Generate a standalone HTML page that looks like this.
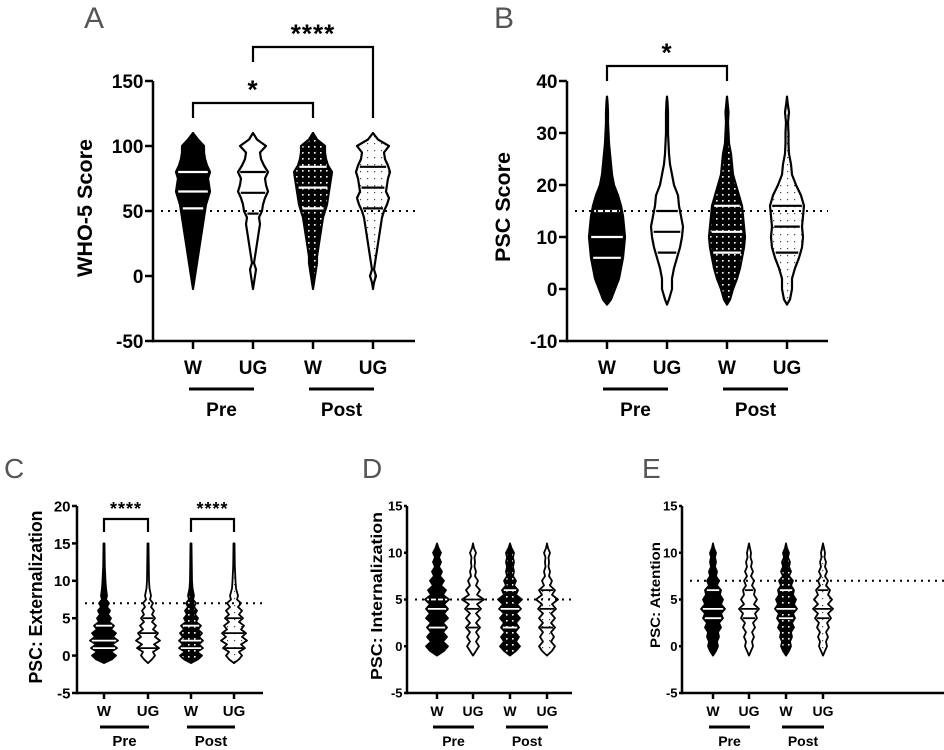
<!DOCTYPE html>
<html><head><meta charset="utf-8">
<style>
html,body{margin:0;padding:0;background:#fff;}
svg{display:block;font-family:"Liberation Sans",Arial,sans-serif;}
</style></head>
<body>
<svg id="fig" width="944" height="750" viewBox="0 0 944 750">
<defs>
<pattern id="wdots" width="6" height="6" patternUnits="userSpaceOnUse"><rect width="6" height="6" fill="#000"/><rect x="2" y="2" width="1.6" height="1.6" fill="#fff"/></pattern>
<pattern id="bdots" width="7" height="7" patternUnits="userSpaceOnUse"><rect width="7" height="7" fill="#fff"/><rect x="3" y="3" width="1.2" height="1.2" fill="#444"/></pattern>
</defs>
</svg>
<script>
const groupCats = ['W','UG','W','UG'];
const timeGroups = ['Pre','Post'];

const aLevels = [-10,-5,0,5,10,15,20,25,30,35,40,45,50,55,60,65,70,75,80,85,90,95,100,105,110];
const aWPre  = [0,1,2,3,4,5,6,7,8,9,10,11,12,13,15,17,16,15,17,14,12,11,11,5,0];
const aUGPre = [0,1,2,3,1,2,3,4,5,6,7,6,9,10,12,15,13,12,15,11,8,7,13,4,0];
const aWPost = [0,1,2,3,4,4,5,6,7,8,9,10,12,14,15,16,17,18,19,15,13,12,12,4,0];
const aUGPost= [0,1,3,1,2,3,4,5,6,7,8,9,11,14,16,13,14,15,17,15,12,11,16,5,0];
const aQuart = [[52,65,80],[48,64,80],[52,68,84],[52,68,84]];

const bLevels = [-3,-2,0,2,4,6,8,10,12,14,16,18,20,22,24,26,28,30,32,34,36,37];
const bWPre  = [0,4,8,12,14,16,17,18,17,16,14,11,7,5,4,3,2,1.5,1,1,0.5,0];
const bUGPre = [0,2,5,5,7,10,13,15,16,14,12,11,7,5,3,2,1.5,1,1,1,0.5,0];
const bWPost = [0,3,6,10,13,15,17,18,17,16,15,12,9,6,5,4,2,1.5,1,1.5,0.5,0];
const bUGPost= [0,3,5,5,8,12,15,16,15,16,17,14,9,5,4,2,1.5,1.5,1,2,0.5,0];
const bQuart = [[6,10,15],[7,11,15],[7,11,16],[7,12,16]];

const cLevels = [-1,-0.5,0,0.5,1,1.5,2,2.5,3,3.5,4,4.5,5,5.5,6,6.5,7,7.5,8,9,10,12,15];
const cWPre  = [0,8,12,7,13,8,14,9,12,7,10,5,7,4,6,3,5,2,3,2,1.5,0.8,0.5];
const cUGPre = [0,4,7,5,11,6,12,7,10,5,8,4,7,4,6,3,5,2,3,1.5,1,0.8,0.5];
const cWPost = [0,7,11,6,12,8,12,8,11,7,10,5,7,4,6,3,5,2,3,1.5,1,0.8,0.5];
const cUGPost= [0,5,8,5,11,7,13,8,12,7,10,5,9,5,8,4,7,3,4,2,1.5,0.8,0.5];
const cQuart = [[1,2,4],[1,3,5],[1,2,4],[1,3,5]];

const dLevels = [-1,-0.5,0,0.5,1,1.5,2,2.5,3,3.5,4,4.5,5,5.5,6,6.5,7,7.5,8,8.5,9,9.5,10,10.5,11];
const dWPre  = [0,7,11,6,10,6,10,6,11,7,11,7,12,6,9,4,7,3,5,2,4,2,4,1.5,0];
const dUGPre = [0,3,6,3,6,3,7,3,7,3,8,4,11,4,7,3,5,2,3,1.5,2,1.5,3,1,0];
const dWPost = [0,6,10,6,9,5,9,6,10,6,11,7,12,6,8,4,6,3,4,3,4,3,4,1.5,0];
const dUGPost= [0,5,8,4,7,4,8,4,8,4,9,5,11,5,8,3,5,2,3,1.5,2,1.5,3,1,0];
const dQuart = [[2,4,5],[2,4,5],[2,4,6],[2,4,6]];

const eLevels = dLevels;
const eWPre  = [0,3,5,4,6,5,8,6,10,8,12,8,10,7,8,4,6,3,4,2,3,2,3,1,0];
const eUGPre = [0,2,4,3,5,3,6,4,8,6,10,5,8,5,6,3,5,2,4,2,3,1.5,2,1,0];
const eWPost = [0,3,5,4,6,5,8,6,9,7,11,8,10,7,8,5,7,3,5,3,4,2,3,1,0];
const eUGPost= [0,2,4,3,5,3,6,4,8,5,10,5,9,5,7,3,5,2,4,2,3,1.5,2,1,0];
const eQuart = [[3,4,6],[3,4,6],[3,4,6],[3,4,6]];

const aTicks = [150,100,50,0,-50];
const bTicks = [40,30,20,10,0,-10];
const cTicks = [20,15,10,5,0,-5];
const deTicks = [15,10,5,0,-5];

const NS='http://www.w3.org/2000/svg';
const svg=document.getElementById('fig');
function mk(tag,attrs,parent,text){const e=document.createElementNS(NS,tag);for(const k in attrs)e.setAttribute(k,attrs[k]);if(text!==undefined)e.textContent=text;(parent||svg).appendChild(e);return e;}

function panel(p){
  const g=mk('g',{});
  
  
  const y=v=>p.y0+(v-p.vmin)/(p.vmax-p.vmin)*(p.y1-p.y0);
  const lt=mk('text',{x:p.lx,y:p.ly,'font-size':p.lfs,fill:'#555','font-weight':'normal'},g,p.id);
  
  
  const fills=['#000','#fff','url(#wdots)','url(#bdots)'];
  const qcol=['#fff','#000','#fff','#000'];
  p.dens.forEach((d,i)=>{
    const cx=p.cx[i];
    let right=[],left=[];
    p.levels.forEach((lv,j)=>{right.push([cx+d[j]*p.unit,y(lv)]);left.push([cx-d[j]*p.unit,y(lv)]);});
    const pts=right.concat(left.reverse()).map(q=>q[0].toFixed(1)+','+q[1].toFixed(1)).join(' ');
    const vp=mk('polygon',{points:pts,fill:fills[i],stroke:'#000','stroke-width':p.sw,'stroke-linejoin':'round'},g);
    
    
    p.quart[i].forEach(qv=>{
      let w=0;for(let j=0;j<p.levels.length-1;j++){if(qv>=p.levels[j]&&qv<=p.levels[j+1]){const t=(qv-p.levels[j])/(p.levels[j+1]-p.levels[j]);w=(d[j]+(d[j+1]-d[j])*t)*p.unit;break;}}
      const ql=mk('line',{x1:cx-w+p.sw,x2:cx+w-p.sw,y1:y(qv),y2:y(qv),stroke:qcol[i],'stroke-width':p.sw},g);
      
      
    });
  });
  const th=mk('line',{x1:p.ax+8,x2:p.xend,y1:y(p.thr),y2:y(p.thr),stroke:'#000','stroke-width':2,'stroke-dasharray':'2,5'},g);
  
  
  const ya=mk('line',{x1:p.ax,x2:p.ax,y1:y(p.vmax),y2:y(p.vmin)+1.2,stroke:'#000','stroke-width':2.5},g);
  
  
  const xa=mk('line',{x1:p.ax,x2:p.xend,y1:y(p.vmin),y2:y(p.vmin),stroke:'#000','stroke-width':2.5},g);
  
  
  p.ticks.forEach(t=>{
    mk('line',{x1:p.ax-p.tl,x2:p.ax,y1:y(t),y2:y(t),stroke:'#000','stroke-width':2.5},g);
    const tt=mk('text',{x:p.ax-p.tl-1.5,y:y(t)+p.tfs*0.36,'font-size':p.tfs,'font-weight':'bold','text-anchor':'end'},g,t);
    
    
  });
  const my=p.ytc;
  const yt=mk('text',{x:p.ytx,y:my,'font-size':p.yfs,'font-weight':'bold','text-anchor':'middle',textLength:p.ytl,lengthAdjust:'spacingAndGlyphs',transform:'rotate(-90 '+p.ytx+' '+my+')'},g,p.ytitle);
  
  
  groupCats.forEach((c,i)=>{
    mk('line',{x1:p.cx[i],x2:p.cx[i],y1:y(p.vmin),y2:y(p.vmin)+p.xtl,stroke:'#000','stroke-width':2.5},g);
    const ct=mk('text',{x:p.cx[i],y:p.catY,'font-size':p.cfs,'font-weight':'bold','text-anchor':'middle'},g,c);
    
    
  });
  timeGroups.forEach((tg,k)=>{
    const x1=p.cx[k*2]-4,x2=p.cx[k*2+1]+1;
    const gl=mk('line',{x1:x1,x2:x2,y1:p.gY,y2:p.gY,stroke:'#000','stroke-width':3},g);
    
    
    const gt=mk('text',{x:(x1+x2)/2,y:p.gtY,'font-size':p.cfs,'font-weight':'bold','text-anchor':'middle'},g,tg);
    
    
  });
  (p.brackets||[]).forEach(b=>{
    const bp=mk('polyline',{points:`${p.cx[b.a]},${b.ya} ${p.cx[b.a]},${b.y} ${p.cx[b.b]},${b.y} ${p.cx[b.b]},${b.yb}`,fill:'none',stroke:'#000','stroke-width':2.2},g);
    
    
    const st=mk('text',{x:(p.cx[b.a]+p.cx[b.b])/2,y:b.y-p.sfs*0.05-3,'font-size':p.sfs,'font-weight':'bold','text-anchor':'middle','letter-spacing':1},g,b.s);
    
    
  });
}

panel({id:'A',lx:84,ly:28,lfs:30,levels:aLevels,dens:[aWPre,aUGPre,aWPost,aUGPost],quart:aQuart,unit:1,sw:2.2,
  vmin:-50,vmax:150,y0:341,y1:81,ax:153,xend:415,cx:[193,253,313,373],thr:50,ticks:aTicks,tl:8,xtl:8,tfs:19,
  ytitle:'WHO-5 Score',ytx:92,ytc:208,ytl:138,yfs:21,catY:374,cfs:19,gY:389,gtY:416,sfs:26,
  brackets:[{a:0,b:2,y:103,ya:118,yb:118,s:'*'},{a:1,b:3,y:47,ya:62,yb:118,s:'****'}]});
panel({id:'B',lx:494,ly:28,lfs:30,levels:bLevels,dens:[bWPre,bUGPre,bWPost,bUGPost],quart:bQuart,unit:1,sw:2.2,
  vmin:-10,vmax:40,y0:341,y1:81,ax:567,xend:828,cx:[607,667,727,787],thr:15,ticks:bTicks,tl:8,xtl:8,tfs:19,
  ytitle:'PSC Score',ytx:510,ytc:207,ytl:110,yfs:21,catY:374,cfs:19,gY:389,gtY:416,sfs:26,
  brackets:[{a:0,b:2,y:66,ya:81,yb:81,s:'*'}]});
panel({id:'C',lx:4,ly:478,lfs:28,levels:cLevels,dens:[cWPre,cUGPre,cWPost,cUGPost],quart:cQuart,unit:1,sw:1.8,
  vmin:-5,vmax:20,y0:693,y1:506,ax:77,xend:263,cx:[104,148,191,234],thr:7,ticks:cTicks,tl:5,xtl:6,tfs:15,
  ytitle:'PSC: Externalization',ytx:42,ytc:597,ytl:173,yfs:18,catY:716,cfs:15,gY:727,gtY:746,sfs:18,
  brackets:[{a:0,b:1,y:519,ya:532,yb:532,s:'****'},{a:2,b:3,y:519,ya:532,yb:532,s:'****'}]});
panel({id:'D',lx:362,ly:478,lfs:28,levels:dLevels,dens:[dWPre,dUGPre,dWPost,dUGPost],quart:dQuart,unit:1,sw:1.8,
  vmin:-5,vmax:15,y0:693,y1:506,ax:407,xend:572,cx:[437,473,510,547],thr:5,ticks:deTicks,tl:3,xtl:6,tfs:13,
  ytitle:'PSC: Internalization',ytx:382,ytc:596,ytl:168,yfs:16,catY:716,cfs:14,gY:727,gtY:746,sfs:18});
panel({id:'E',lx:642,ly:478,lfs:28,levels:eLevels,dens:[eWPre,eUGPre,eWPost,eUGPost],quart:eQuart,unit:1,sw:1.8,
  vmin:-5,vmax:15,y0:693,y1:506,ax:682,xend:944,cx:[713,749,786,823],thr:7,ticks:deTicks,tl:3,xtl:6,tfs:13,
  ytitle:'PSC: Attention',ytx:660,ytc:595,ytl:106,yfs:14,catY:716,cfs:14,gY:727,gtY:746,sfs:18});
</script>
</body></html>
